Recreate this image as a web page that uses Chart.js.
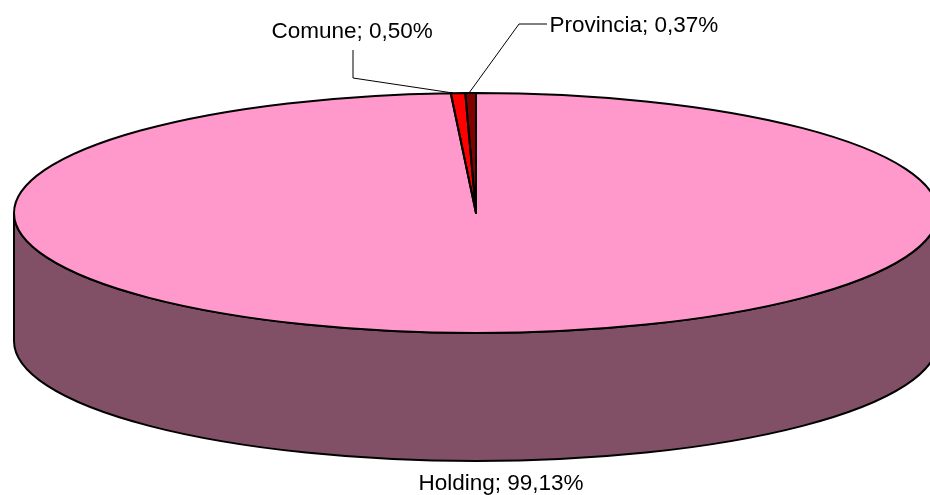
<!DOCTYPE html>
<html>
<head>
<meta charset="utf-8">
<title>Holding, Comune, Provincia</title>
<script src="https://cdn.jsdelivr.net/npm/chart.js@4"></script>
<style>
  html,body{margin:0;padding:0;background:#fff;overflow:hidden;}
  canvas{display:block;}
</style>
</head>
<body>
<canvas id="pie" width="930" height="495"></canvas>
<script>
const categories = ['Holding', 'Comune', 'Provincia'];
const shares = [99.13, 0.50, 0.37];
const sliceColors = ['#ff99cc', '#ff0000', '#800000'];
const rimColors = ['#825066', '#800000', '#400000'];

const RX = 462, RY = 120, DEPTH = 128;

// where each label goes, and its leader line if it has one
const labelSpots = [
  {x: 418.5, y: 490, leader: null},
  {x: 271.5, y: 38, leader: [[353, 50], [353, 78], [453, 93]]},
  {x: 549.5, y: 32, leader: [[547, 24], [519, 24], [469, 93]]},
];

const fmtLabel = i => categories[i] + '; ' + shares[i].toFixed(2).replace('.', ',') + '%';

// Chart.js only draws flat circles, so squash the pie and add the rim by hand
const tiltPie = {
  id: 'tiltPie',
  beforeDatasetsDraw(chart){
    const ctx = chart.ctx, arcs = chart.getDatasetMeta(0).data;
    const cx = arcs[0].x, cy = arcs[0].y;
    ctx.save();
    ctx.lineWidth = 2;
    ctx.strokeStyle = '#000';
    arcs.forEach((arc, i) => {
      const a = Math.max(arc.startAngle, 0), b = Math.min(arc.endAngle, Math.PI);
      if (b <= a) return;
      ctx.beginPath();
      ctx.ellipse(cx, cy + DEPTH, RX, RY, 0, a, b);
      ctx.ellipse(cx, cy, RX, RY, 0, b, a, true);
      ctx.closePath();
      ctx.fillStyle = rimColors[i];
      ctx.fill();
      ctx.stroke();
    });
    ctx.restore();

    ctx.save();
    ctx.translate(cx, cy);
    ctx.scale(1, RY / RX);
    ctx.translate(-cx, -cy);
  },
  afterDatasetsDraw(chart){
    const ctx = chart.ctx, arcs = chart.getDatasetMeta(0).data;
    ctx.restore();

    // outlines go on after the restore so the line width stays even
    ctx.save();
    ctx.lineWidth = 2;
    ctx.strokeStyle = '#000';
    ctx.lineJoin = 'round';
    arcs.forEach(arc => {
      ctx.beginPath();
      ctx.moveTo(arc.x, arc.y);
      ctx.ellipse(arc.x, arc.y, RX, RY, 0, arc.startAngle, arc.endAngle);
      ctx.closePath();
      ctx.stroke();
    });

    ctx.lineWidth = 1;
    ctx.fillStyle = '#000';
    ctx.font = '22.5px "Liberation Sans", Arial, sans-serif';
    ctx.textBaseline = 'alphabetic';
    ctx.textAlign = 'left';
    labelSpots.forEach((s, i) => {
      if (s.leader) {
        ctx.beginPath();
        s.leader.forEach((p, k) => k ? ctx.lineTo(p[0], p[1]) : ctx.moveTo(p[0], p[1]));
        ctx.stroke();
      }
      ctx.fillText(fmtLabel(i), s.x, s.y);
    });
    ctx.restore();
  }
};

new Chart(document.getElementById('pie'), {
  type: 'pie',
  data: {
    labels: categories,
    datasets: [{data: shares, backgroundColor: sliceColors, borderWidth: 0, radius: RX, clip: false}]
  },
  options: {
    responsive: false,
    animation: false,
    layout: {padding: {left: 22, bottom: 69}},
    plugins: {legend: {display: false}, tooltip: {enabled: false}}
  },
  plugins: [tiltPie]
});
</script>
</body>
</html>
